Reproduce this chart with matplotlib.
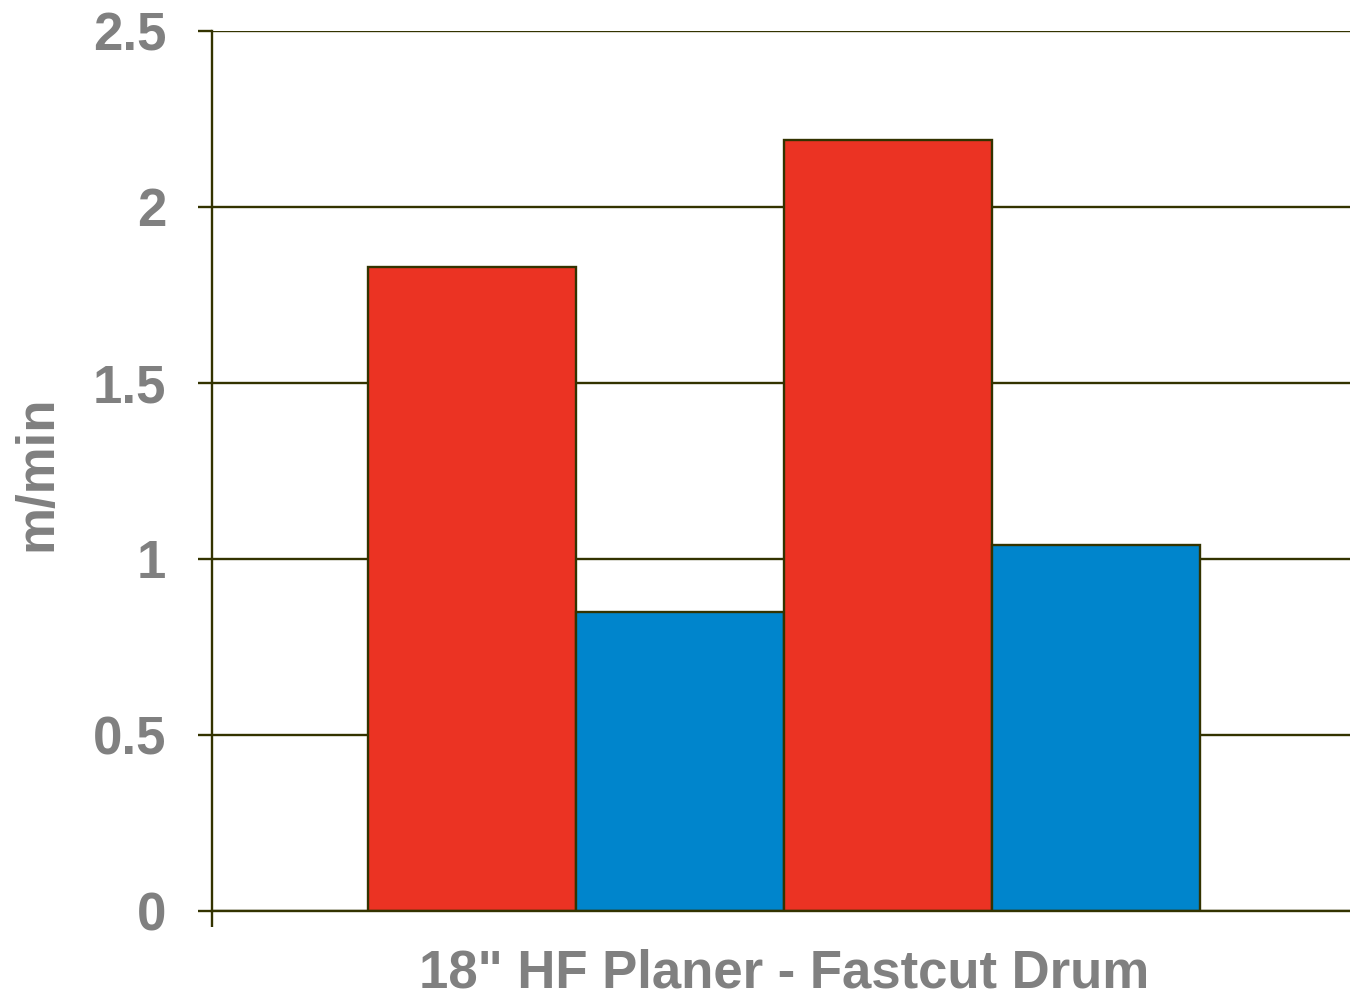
import matplotlib.pyplot as plt
import numpy as np

# values (m/min)
category = '18" HF Planer - Fastcut Drum'
values = [1.83, 0.85, 2.19, 1.04]
colors = ['#EB3323', '#0085CC', '#EB3323', '#0085CC']
ytick_vals = [0, 0.5, 1, 1.5, 2, 2.5]
ytick_labels = ['0', '0.5', '1', '1.5', '2', '2.5']

line_col = '#333300'
text_col = '#808080'
plt.rcParams['font.family'] = ['Liberation Sans', 'DejaVu Sans']

fig = plt.figure(figsize=(13.5, 9.98), dpi=100)
ax = fig.add_axes([212 / 1350, 1 - 911 / 998, 1 - 212 / 1350, (911 - 31) / 998])

w = 0.1828
offset = 0.003
x = offset + (np.arange(len(values)) - 1.5) * w
ax.bar(x, values, width=w, color=colors, edgecolor=line_col, linewidth=1.7, zorder=2)

ax.set_xlim(-0.5, 0.5)
ax.set_ylim(0, 2.5)
ax.set_yticks(ytick_vals)
ax.set_yticklabels(ytick_labels, fontsize=38, fontweight='bold', color=text_col)
ax.set_xticks([-0.5])
ax.set_xticklabels([''])
ax.tick_params(axis='y', length=10, width=1.7, color=line_col, pad=23)
ax.tick_params(axis='x', length=11.5, width=1.7, color=line_col)

ax.yaxis.grid(True, color=line_col, linewidth=1.7)
ax.set_axisbelow(True)
for s in ['top', 'right']:
    ax.spines[s].set_visible(False)
for s in ['left', 'bottom']:
    ax.spines[s].set_color(line_col)
    ax.spines[s].set_linewidth(1.7)

fig.text(784 / 1350, 1 - 973 / 998, category, ha='center', va='center',
         fontsize=38, fontweight='bold', color=text_col)
fig.text(37 / 1350, 1 - 473 / 998, 'm/min', ha='center', va='center', rotation=90,
         fontsize=38, fontweight='bold', color=text_col)

fig.savefig('out.png', dpi=100)
